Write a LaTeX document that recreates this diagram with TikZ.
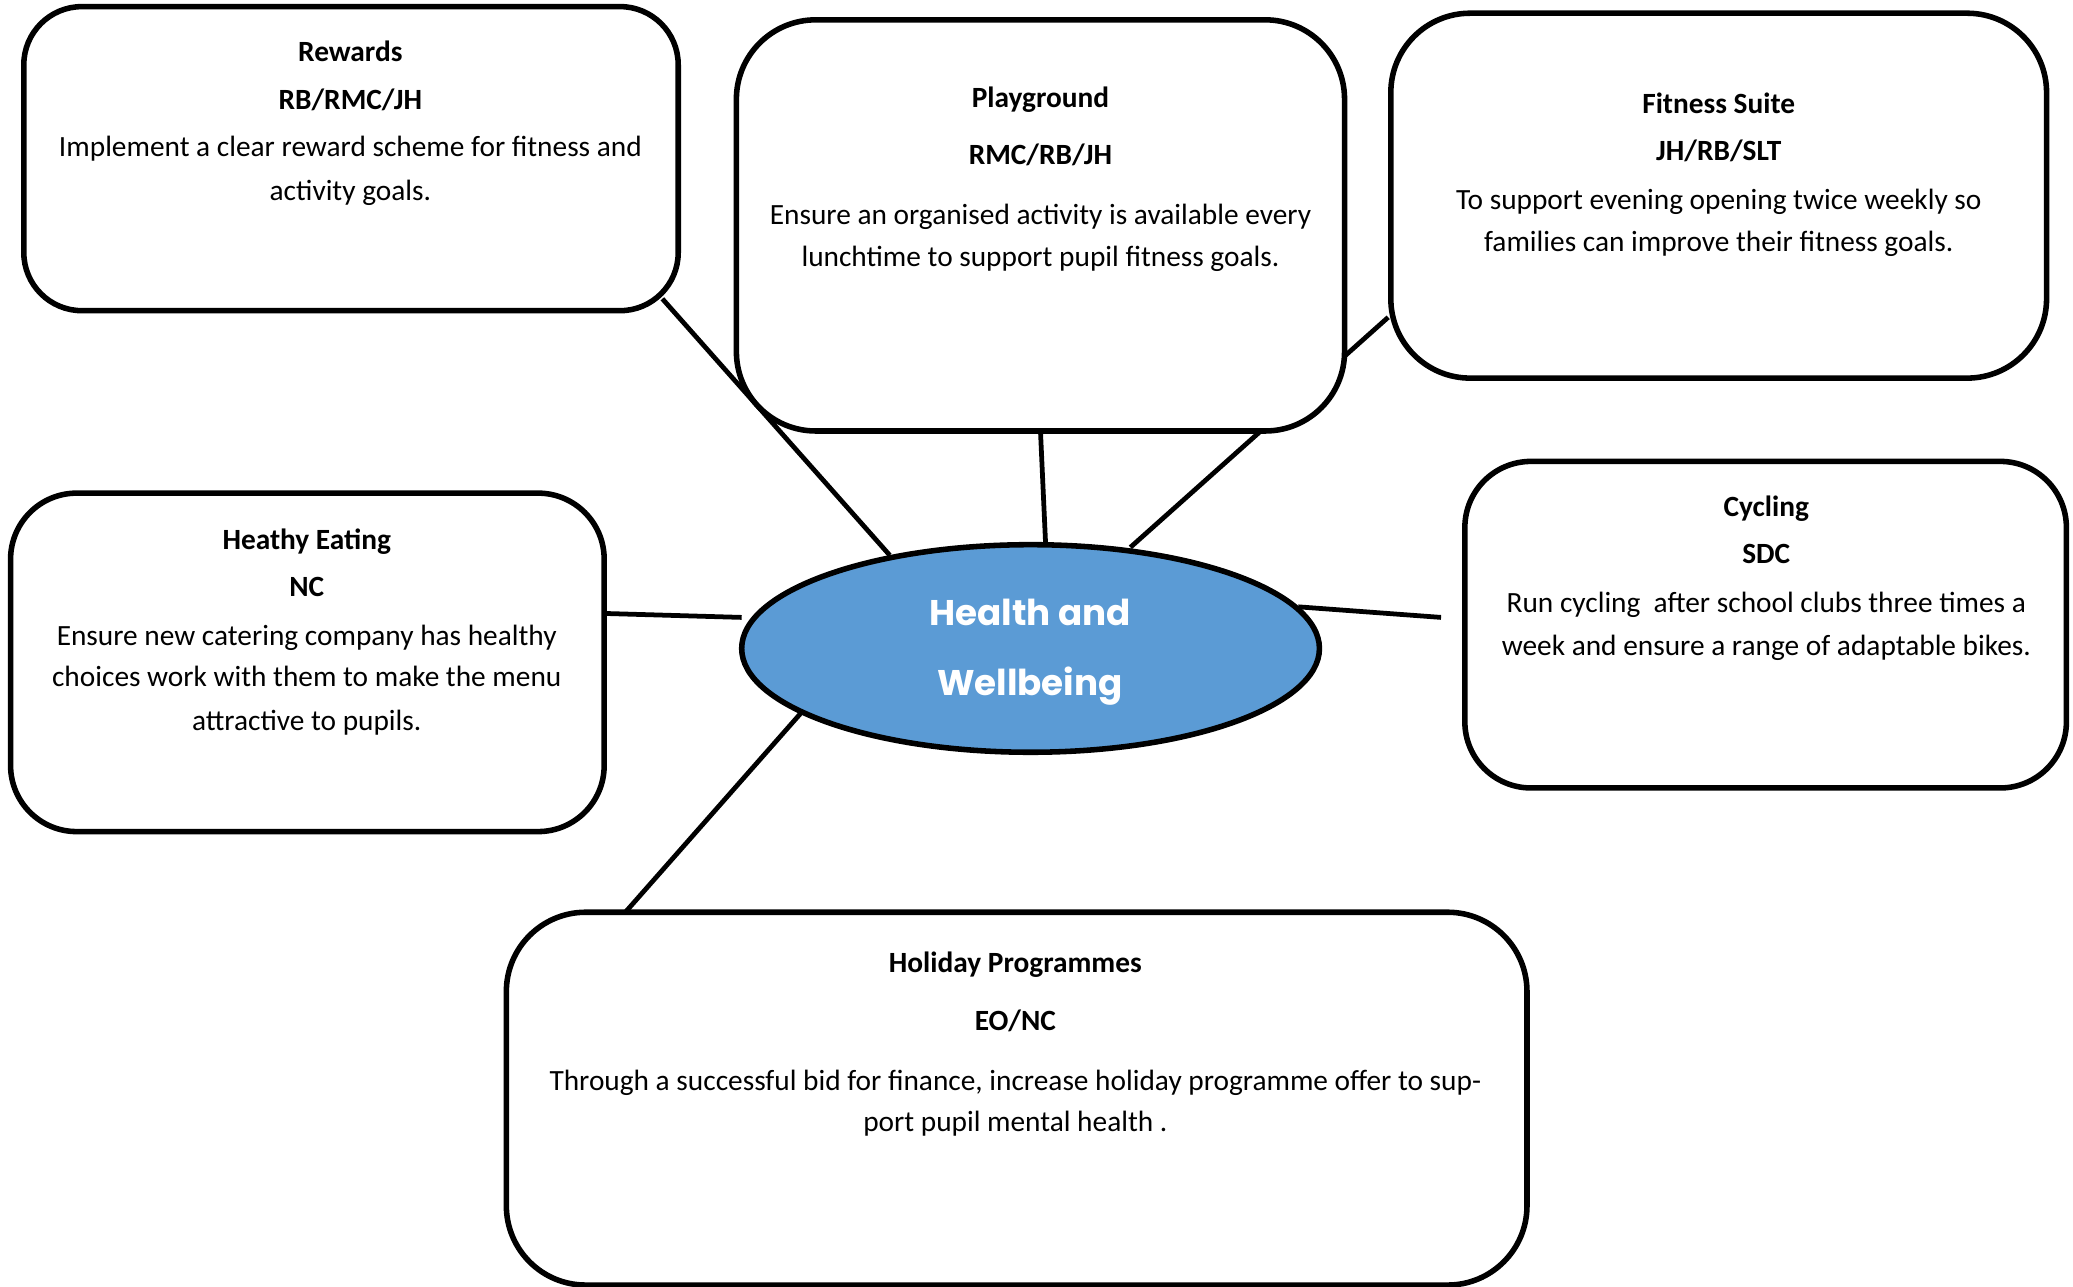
\documentclass[tikz,border=0pt]{standalone}
\usepackage{fontspec}
\setmainfont{Carlito}
\newfontfamily\ctrfont{Poppins}
\usetikzlibrary{shapes.geometric}
\definecolor{hwblue}{HTML}{5B9BD5}
\pgfdeclarelayer{back}
\pgfdeclarelayer{bg}
\pgfsetlayers{back,bg,main}
\begin{document}
\begin{tikzpicture}[x=0.5pt,y=-0.5pt,
  box/.style={draw=black,line width=2.1pt,fill=white,rectangle,inner sep=0pt},
  conn/.style={draw=black,line width=1.8pt},
  ttl/.style={anchor=base,font=\fontsize{11.1}{13}\selectfont\bfseries,inner sep=0pt},
  txt/.style={anchor=base,font=\fontsize{11.1}{13}\selectfont,inner sep=0pt},
  ctr/.style={anchor=base,font=\fontsize{13.5}{16}\selectfont\ctrfont\bfseries,text=white,inner sep=0pt}]
\useasboundingbox (0,0) rectangle (1568,973);
\begin{pgfonlayer}{back}
\fill[white] (0,0) rectangle (1568,973);
\end{pgfonlayer}

% boxes
\node[box,rounded corners=22pt,minimum width=247.5pt,minimum height=115pt] (rw) at (265.5,120) {};
\node[box,rounded corners=30pt,minimum width=230pt,minimum height=155.5pt] (pg) at (787,170.5) {};
\node[box,rounded corners=30pt,minimum width=248pt,minimum height=138pt] (fs) at (1300,148) {};
\node[box,rounded corners=25pt,minimum width=224.5pt,minimum height=128pt] (he) at (232.5,501) {};
\node[box,rounded corners=25pt,minimum width=227.5pt,minimum height=123.5pt] (cy) at (1335.5,472.5) {};
\node[box,rounded corners=30pt,minimum width=386pt,minimum height=141pt] (hp) at (769,831) {};
\node[draw=black,line width=2.1pt,fill=hwblue,ellipse,inner sep=0pt,minimum width=218.5pt,minimum height=78.5pt] (hw) at (779.5,490.5) {};

% texts
\node[ttl] (rwT) at (265,46.5) {Rewards};
\node[ttl] (rwA) at (265,82.5) {RB/RMC/JH};
\node[txt] (rwB) at (265,118.5) {Implement a clear reward scheme for fitness and};
\node[txt] (rwC) at (265,151.5) {activity goals.};

\node[ttl] (pgT) at (787,81.5) {Playground};
\node[ttl] (pgA) at (787,124.5) {RMC/RB/JH};
\node[txt] (pgB) at (787,169.5) {Ensure an organised activity is available every};
\node[txt] (pgC) at (787,201.5) {lunchtime to support pupil fitness goals.};

\node[ttl] (fsT) at (1300,85.5) {Fitness Suite};
\node[ttl] (fsA) at (1300,121.5) {JH/RB/SLT};
\node[txt] (fsB) at (1300,158.5) {To support evening opening twice weekly so};
\node[txt] (fsC) at (1300,190.5) {families can improve their fitness goals.};

\node[ttl] (heT) at (232,415.5) {Heathy Eating};
\node[ttl] (heA) at (232,451.5) {NC};
\node[txt] (heB) at (232,488.5) {Ensure new catering company has healthy};
\node[txt] (heC) at (232,519.5) {choices work with them to make the menu};
\node[txt] (heD) at (232,552.5) {attractive to pupils.};

\node[ttl] (cyT) at (1336,390.5) {Cycling};
\node[ttl] (cyA) at (1336,426.5) {SDC};
\node[txt] (cyB) at (1336,463.5) {Run cycling\ \ after school clubs three times a};
\node[txt] (cyC) at (1336,495.5) {week and ensure a range of adaptable bikes.};

\node[ttl] (hpT) at (768,735.5) {Holiday Programmes};
\node[ttl] (hpA) at (768,779.5) {EO/NC};
\node[txt] (hpB) at (768,824.5) {Through a successful bid for finance, increase holiday programme offer to sup-};
\node[txt] (hpC) at (768,855.5) {port pupil mental health .};

\node[ctr] (hwA) at (779,473) {Health and};
\node[ctr] (hwB) at (779,526) {Wellbeing};

% connector end points
\coordinate (c1a) at (501,226); \coordinate (c1b) at (673,420);
\coordinate (c2a) at (787,326); \coordinate (c2b) at (791,414);
\coordinate (c3a) at (1050,240); \coordinate (c3b) at (855,414);
\coordinate (c4a) at (457,464); \coordinate (c4b) at (561,467);
\coordinate (c5a) at (982,459); \coordinate (c5b) at (1090,467);
\coordinate (c6a) at (607,538); \coordinate (c6b) at (473,690);

\begin{pgfonlayer}{bg}
\draw[conn] (c1a) -- (c1b);
\draw[conn] (c2a) -- (c2b);
\draw[conn] (c3a) -- (c3b);
\draw[conn] (c4a) -- (c4b);
\draw[conn] (c5a) -- (c5b);
\draw[conn] (c6a) -- (c6b);
\end{pgfonlayer}
\end{tikzpicture}
\end{document}
